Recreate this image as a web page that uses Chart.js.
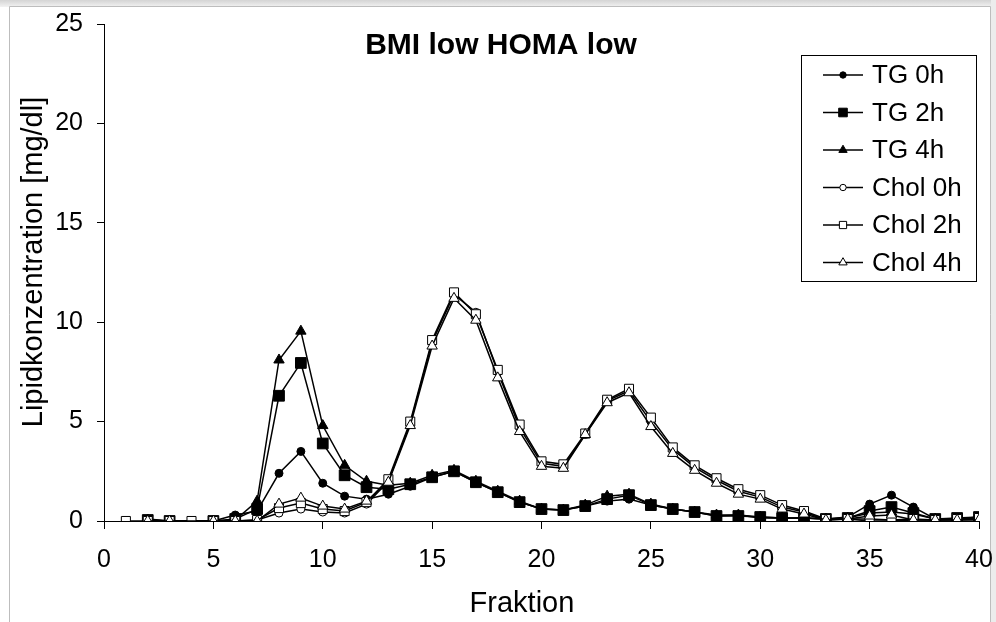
<!DOCTYPE html>
<html>
<head>
<meta charset="utf-8">
<script src="https://cdn.jsdelivr.net/npm/chart.js@4/dist/chart.umd.min.js"></script>
<style>
  html, body { margin: 0; padding: 0; background: #ffffff; }
  canvas { display: block; }
</style>
</head>
<body>
<canvas id="c" width="996" height="622"></canvas>
<script>
// Lipoprotein fractions 1..40 (FPLC), lipid concentration in mg/dl
const fractions = Array.from({ length: 40 }, (_, i) => i + 1);

const tg0h   = [null, 0.10, 0.00, null, 0.00, 0.30, 0.50, 2.40, 3.50, 1.90,
                1.25, 1.10, 1.35, 1.75, 2.20, 2.50, 1.95, 1.45, 0.95, 0.60,
                0.55, 0.75, 1.00, 1.10, 0.80, 0.60, 0.45, 0.25, 0.30, 0.15,
                0.15, 0.15, 0.10, 0.20, 0.85, 1.30, 0.70, 0.10, 0.10, 0.20];
const tg2h   = [null, 0.05, 0.00, null, 0.00, 0.10, 0.60, 6.30, 7.95, 3.90,
                2.30, 1.70, 1.60, 1.85, 2.20, 2.50, 1.95, 1.45, 0.95, 0.60,
                0.55, 0.75, 1.10, 1.30, 0.80, 0.60, 0.45, 0.25, 0.25, 0.20,
                0.15, 0.15, 0.10, 0.15, 0.50, 0.70, 0.40, 0.10, 0.15, 0.20];
const tg4h   = [null, 0.05, 0.00, null, 0.00, 0.05, 1.00, 8.10, 9.55, 4.80,
                2.80, 2.00, 1.80, 1.90, 2.30, 2.55, 2.00, 1.50, 1.00, 0.60,
                0.55, 0.80, 1.25, 1.35, 0.85, 0.60, 0.45, 0.30, 0.30, 0.20,
                0.15, 0.15, 0.10, 0.15, 0.40, 0.45, 0.35, 0.10, 0.10, 0.15];
const chol0h = [null, 0.00, 0.00, null, 0.00, 0.00, 0.05, 0.40, 0.60, 0.45,
                0.40, 0.85, 2.00, 4.90, 9.00, 11.40, 10.50, 7.50, 4.70, 2.90,
                2.75, 4.35, 6.05, 6.55, 5.00, 3.60, 2.70, 2.05, 1.50, 1.20,
                0.70, 0.45, 0.05, 0.10, 0.00, 0.00, 0.05, 0.05, 0.05, 0.10];
const chol2h = [0.00, 0.00, 0.00, 0.00, 0.00, 0.00, 0.05, 0.65, 0.90, 0.60,
                0.50, 0.95, 2.10, 5.00, 9.10, 11.50, 10.40, 7.60, 4.85, 3.00,
                2.85, 4.40, 6.10, 6.65, 5.20, 3.70, 2.80, 2.15, 1.60, 1.30,
                0.80, 0.50, 0.10, 0.10, 0.10, 0.05, 0.10, 0.05, 0.10, 0.15];
const chol4h = [null, 0.00, 0.00, null, 0.00, 0.00, 0.00, 0.85, 1.15, 0.75,
                0.60, 1.00, 1.95, 4.80, 8.80, 11.20, 10.10, 7.20, 4.50, 2.75,
                2.65, 4.35, 5.95, 6.45, 4.75, 3.40, 2.55, 1.90, 1.35, 1.10,
                0.60, 0.35, 0.05, 0.10, 0.25, 0.30, 0.05, 0.05, 0.05, 0.05];

const seriesLabels = ['TG 0h', 'TG 2h', 'TG 4h', 'Chol 0h', 'Chol 2h', 'Chol 4h'];
const seriesValues = [tg0h, tg2h, tg4h, chol0h, chol2h, chol4h];

const xTickValues = [0, 5, 10, 15, 20, 25, 30, 35, 40];
const yTickValues = [0, 5, 10, 15, 20, 25];

const chartTitle = 'BMI low HOMA low';
const xAxisTitle = 'Fraktion';
const yAxisTitle = 'Lipidkonzentration [mg/dl]';

const FONT = '"Liberation Sans", Arial, sans-serif';

// marker styles per series: filled for TG, open for Chol
const markerStyles = [
  { pointStyle: 'circle',   radius: 4,   fill: '#000000' },
  { pointStyle: 'rect',     radius: 7.6, fill: '#000000' },
  { pointStyle: 'triangle', radius: 6,   fill: '#000000' },
  { pointStyle: 'circle',   radius: 4,   fill: '#ffffff' },
  { pointStyle: 'rect',     radius: 6.4, fill: '#ffffff' },
  { pointStyle: 'triangle', radius: 6,   fill: '#ffffff' }
];

const datasets = seriesValues.map((vals, i) => ({
  label: seriesLabels[i],
  data: vals.map((v, k) => ({ x: fractions[k], y: v })),
  borderColor: '#000000',
  borderWidth: 1.5,
  pointStyle: markerStyles[i].pointStyle,
  pointRadius: markerStyles[i].radius,
  pointHoverRadius: markerStyles[i].radius,
  pointBackgroundColor: markerStyles[i].fill,
  pointBorderColor: '#000000',
  pointBorderWidth: 1,
  tension: 0,
  spanGaps: true,
  // later series are painted above earlier ones
  order: seriesValues.length - i
}));

// small marker painter used for the legend samples
function drawMarker(ctx, style, radius, fill, x, y) {
  ctx.save();
  ctx.fillStyle = fill;
  ctx.strokeStyle = '#000000';
  ctx.lineWidth = 1;
  ctx.beginPath();
  if (style === 'circle') {
    ctx.arc(x, y, radius, 0, Math.PI * 2);
  } else if (style === 'rect') {
    const s = Math.SQRT1_2 * radius;
    ctx.rect(x - s, y - s, 2 * s, 2 * s);
  } else if (style === 'triangle') {
    for (let k = 0; k < 3; k++) {
      const a = k * 2 * Math.PI / 3;
      const px = x + Math.sin(a) * radius;
      const py = y - Math.cos(a) * radius;
      if (k === 0) ctx.moveTo(px, py); else ctx.lineTo(px, py);
    }
    ctx.closePath();
  }
  ctx.fill();
  ctx.stroke();
  ctx.restore();
}

const framePlugin = {
  id: 'frame',
  beforeDraw(chart) {
    const ctx = chart.ctx;
    const W = chart.width, H = chart.height;
    ctx.save();
    ctx.fillStyle = '#ffffff';
    ctx.fillRect(0, 0, W, H);
    // soft shadow strip along the top and right side of the chart panel
    const gTop = ctx.createLinearGradient(0, 0, 0, 7);
    gTop.addColorStop(0, '#d4d4d4');
    gTop.addColorStop(1, '#f2f2f2');
    ctx.fillStyle = gTop;
    ctx.fillRect(0, 0, W, 7);
    ctx.fillStyle = '#ececec';
    ctx.fillRect(991, 0, W - 991, H);
    ctx.fillStyle = '#ffffff';
    ctx.fillRect(10, 7, 981, H - 7);
    ctx.strokeStyle = '#bdbdbd';
    ctx.lineWidth = 1;
    ctx.beginPath();
    ctx.moveTo(9.5, H);
    ctx.lineTo(9.5, 6.5);
    ctx.lineTo(990.5, 6.5);
    ctx.lineTo(990.5, H);
    ctx.stroke();
    ctx.restore();
  },
  afterDraw(chart) {
    const ctx = chart.ctx;
    ctx.save();
    ctx.fillStyle = '#000000';

    // chart title
    ctx.font = 'bold 30px ' + FONT;
    ctx.textAlign = 'center';
    ctx.textBaseline = 'middle';
    ctx.fillText(chartTitle, 501, 46);

    // axis titles
    ctx.font = '29px ' + FONT;
    ctx.fillText(xAxisTitle, 522, 604);
    ctx.save();
    ctx.translate(34, 262);
    ctx.rotate(-Math.PI / 2);
    ctx.fillText(yAxisTitle, 0, 0);
    ctx.restore();

    // legend box
    const lx = 801.5, ly = 55.5, lw = 175, lh = 226;
    ctx.strokeStyle = '#000000';
    ctx.lineWidth = 1;
    ctx.strokeRect(lx, ly, lw, lh);
    ctx.textAlign = 'left';
    chart.data.datasets.forEach((ds, i) => {
      const y = 75 + i * 37.5;
      ctx.strokeStyle = '#000000';
      ctx.lineWidth = 1.5;
      ctx.beginPath();
      ctx.moveTo(823, y);
      ctx.lineTo(863, y);
      ctx.stroke();
      const m = markerStyles[i];
      drawMarker(ctx, m.pointStyle, m.radius * 0.8, m.fill, 843, y);
      ctx.fillStyle = '#000000';
      ctx.font = '26px ' + FONT;
      ctx.fillText(ds.label, 872, y + 1);
    });
    ctx.restore();
  }
};

new Chart(document.getElementById('c'), {
  type: 'line',
  data: { datasets },
  options: {
    responsive: false,
    animation: false,
    events: [],
    layout: { padding: { left: 0, right: 17, top: 24, bottom: 0 } },
    plugins: {
      legend: { display: false },
      title: { display: false },
      tooltip: { enabled: false }
    },
    scales: {
      x: {
        type: 'linear',
        min: 0,
        max: 40,
        afterFit: (s) => { s.height = 101; s.paddingLeft = 0; s.paddingRight = 0; },
        afterBuildTicks: (s) => { s.ticks = xTickValues.map(v => ({ value: v })); },
        border: { display: true, color: '#000000', width: 1 },
        grid: { display: true, drawOnChartArea: false, drawTicks: true, tickLength: 8, color: '#000000', tickColor: '#000000' },
        ticks: { color: '#000000', font: { family: FONT, size: 25 }, padding: 16, maxRotation: 0 }
      },
      y: {
        type: 'linear',
        min: 0,
        max: 25,
        afterFit: (s) => { s.width = 104; s.paddingTop = 0; s.paddingBottom = 0; },
        afterBuildTicks: (s) => { s.ticks = yTickValues.map(v => ({ value: v })); },
        border: { display: true, color: '#000000', width: 1 },
        grid: { display: true, drawOnChartArea: false, drawTicks: true, tickLength: 7, color: '#000000', tickColor: '#000000' },
        ticks: { color: '#000000', font: { family: FONT, size: 25 }, padding: 14 }
      }
    }
  },
  plugins: [framePlugin]
});
</script>
</body>
</html>
